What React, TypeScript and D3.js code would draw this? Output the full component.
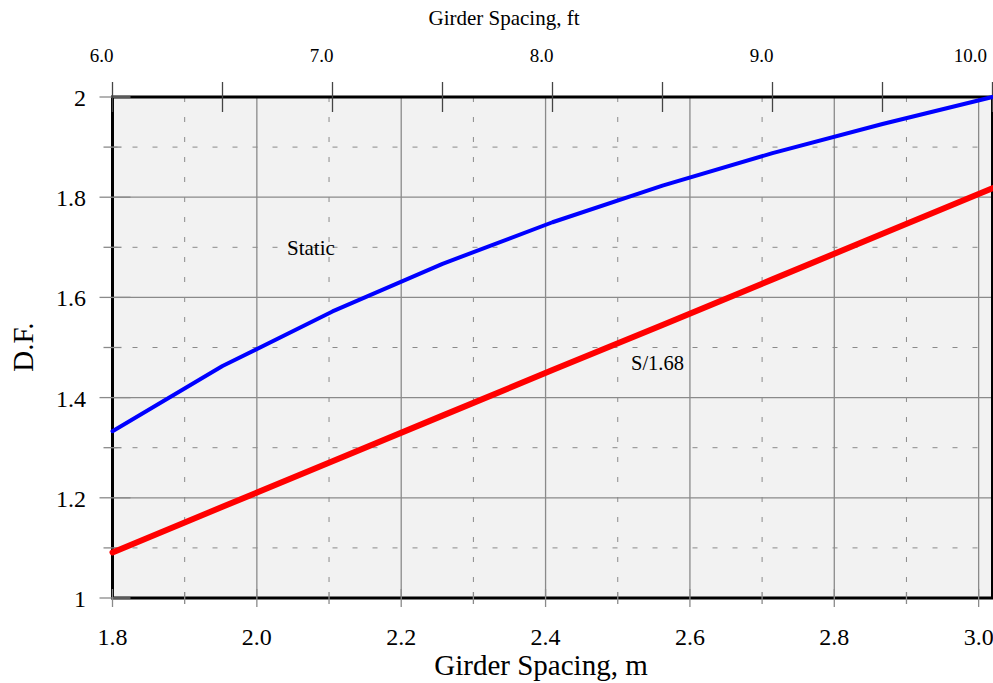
import React from "react";
import * as d3 from "d3";

// Girder spacing in ft (0.5 ft steps) – shared categories for both curves
const spacingFt = [6.0, 6.5, 7.0, 7.5, 8.0, 8.5, 9.0, 9.5, 10.0];
// Static analysis distribution factor
const staticDF = [1.333, 1.463, 1.572, 1.667, 1.75, 1.823, 1.888, 1.946, 2.0];
// AASHTO S/1.68 (S/5.5 in ft)
const codeDF = [1.091, 1.182, 1.273, 1.364, 1.455, 1.545, 1.636, 1.727, 1.818];

const bottomTicks = [1.8, 2.0, 2.2, 2.4, 2.6, 2.8, 3.0];
const bottomMinor = [1.9, 2.1, 2.3, 2.5, 2.7, 2.9];
const topTicks = [6.0, 7.0, 8.0, 9.0, 10.0];
const topAllTicks = [6.0, 6.5, 7.0, 7.5, 8.0, 8.5, 9.0, 9.5, 10.0];
const yTicks = [1, 1.2, 1.4, 1.6, 1.8, 2];
const yMinor = [1.1, 1.3, 1.5, 1.7, 1.9];

const W = 993;
const H = 683;
const L = 112.5;
const R = 992.5;
const T = 97;
const B = 598;
const FONT = "'Liberation Serif', 'Times New Roman', Times, serif";
const ts = { fontFamily: FONT, fill: "#000" };

export default function App() {
  const xM = d3.scaleLinear().domain([1.8, 3.0192]).range([L, R]);
  const xFt = d3.scaleLinear().domain([6, 10]).range([L, R]);
  const y = d3.scaleLinear().domain([1, 2]).range([B, T]);

  const line = d3
    .line<number>()
    .x((_, i) => xFt(spacingFt[i]))
    .y((d) => y(d));

  const grid = "#8a8a8a";

  return (
    <svg
      width={W}
      height={H}
      style={{ position: "absolute", left: 0, top: 0, background: "#fff" }}
    >
      <rect x={L} y={T} width={R - L} height={B - T} fill="#f2f2f2" />

      {/* minor dashed grid */}
      {bottomMinor.map((v) => (
        <line key={"vx" + v} x1={xM(v)} x2={xM(v)} y1={T} y2={B} stroke={grid} strokeWidth={1} strokeDasharray="5,15" />
      ))}
      {yMinor.map((v) => (
        <line key={"hy" + v} x1={L} x2={R} y1={y(v)} y2={y(v)} stroke={grid} strokeWidth={1} strokeDasharray="5,15" />
      ))}
      {/* major solid grid */}
      {bottomTicks.map((v) => (
        <line key={"gx" + v} x1={xM(v)} x2={xM(v)} y1={T} y2={B} stroke={grid} strokeWidth={1.3} />
      ))}
      {yTicks.map((v) => (
        <line key={"gy" + v} x1={L} x2={R} y1={y(v)} y2={y(v)} stroke={grid} strokeWidth={1.3} />
      ))}

      {/* border */}
      <rect x={L} y={T} width={R - L} height={B - T} fill="none" stroke="#000" strokeWidth={3} />

      {/* left ticks */}
      {yTicks.map((v) => (
        <line key={"ly" + v} x1={L - 13} x2={L + 18} y1={y(v)} y2={y(v)} stroke={grid} strokeWidth={1.3} />
      ))}
      {yMinor.map((v) => (
        <line key={"lm" + v} x1={L - 9} x2={L + 9} y1={y(v)} y2={y(v)} stroke={grid} strokeWidth={1.3} />
      ))}
      {/* bottom ticks */}
      {bottomTicks.map((v) => (
        <line key={"bt" + v} x1={xM(v)} x2={xM(v)} y1={B - 9} y2={B + 9} stroke={grid} strokeWidth={1.3} />
      ))}
      {bottomMinor.map((v) => (
        <line key={"bm" + v} x1={xM(v)} x2={xM(v)} y1={B - 6} y2={B + 6} stroke={grid} strokeWidth={1.3} />
      ))}
      {/* top ft ticks */}
      {topAllTicks.map((v) => (
        <line key={"tt" + v} x1={xFt(v)} x2={xFt(v)} y1={T - 15} y2={T + 15} stroke="#444" strokeWidth={1.3} />
      ))}

      {/* curves */}
      <path d={line(codeDF) || ""} fill="none" stroke="#ff0000" strokeWidth={6} strokeLinecap="round" strokeLinejoin="round" />
      <path d={line(staticDF) || ""} fill="none" stroke="#0000ff" strokeWidth={4} strokeLinecap="round" strokeLinejoin="round" />

      {/* tick labels */}
      {yTicks.map((v) => (
        <text key={"yl" + v} x={86} y={y(v) + 9} textAnchor="end" fontSize={24} style={ts}>
          {String(v)}
        </text>
      ))}
      {bottomTicks.map((v) => (
        <text key={"xl" + v} x={xM(v)} y={645} textAnchor="middle" fontSize={24} style={ts}>
          {v.toFixed(1)}
        </text>
      ))}
      {topTicks.map((v) => (
        <text key={"tl" + v} x={Math.min(xFt(v) + 1, 987)} y={62} textAnchor="end" fontSize={19} style={ts}>
          {v.toFixed(1)}
        </text>
      ))}

      {/* titles */}
      <text x={504} y={25} textAnchor="middle" fontSize={21} style={ts}>
        Girder Spacing, ft
      </text>
      <text x={541} y={675} textAnchor="middle" fontSize={29} style={ts}>
        Girder Spacing, m
      </text>
      <text transform={`translate(33,347) rotate(-90)`} textAnchor="middle" fontSize={29} style={ts}>
        D.F.
      </text>

      {/* annotations */}
      <text x={287} y={255} fontSize={21} style={ts}>
        Static
      </text>
      <text x={631} y={370} fontSize={20.5} style={ts}>
        S/1.68
      </text>
    </svg>
  );
}
